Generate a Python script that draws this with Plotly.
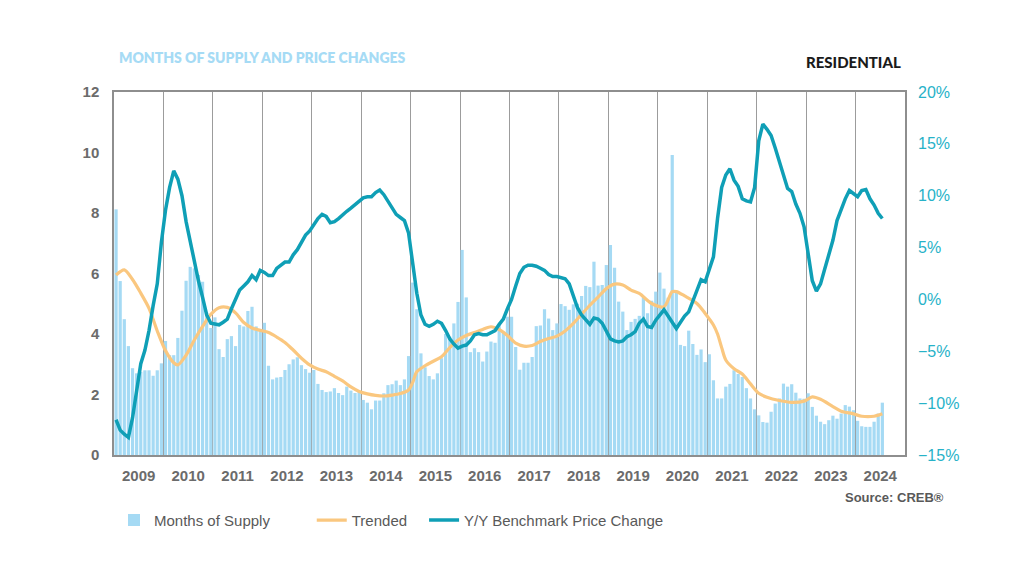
import plotly.graph_objects as go
from plotly.subplots import make_subplots

# ---------------- data ----------------
years = [str(y) for y in range(2009, 2025)]

# Months of supply, monthly from Jan 2009
supply_2009 = [8.12, 5.75, 4.49, 3.6, 2.87, 2.7, 2.75, 2.8, 2.8, 2.62, 2.8, 3.03]
supply_2010 = [3.77, 3.3, 3.3, 3.87, 4.77, 5.76, 6.22, 6.17, 5.95, 5.73, 4.7, 4.2]
supply_2011 = [4.55, 3.5, 3.24, 3.83, 3.93, 3.6, 4.3, 4.25, 4.76, 4.9, 4.25, 4.1]
supply_2012 = [4.37, 2.95, 2.5, 2.56, 2.58, 2.81, 3.0, 3.16, 3.23, 2.97, 2.84, 2.72]
supply_2013 = [2.81, 2.35, 2.15, 2.08, 2.1, 2.21, 2.05, 1.98, 2.26, 2.13, 2.05, 2.12]
supply_2014 = [1.82, 1.73, 1.51, 1.8, 1.8, 2.04, 2.31, 2.34, 2.46, 2.31, 2.5, 3.27]
supply_2015 = [5.7, 4.82, 3.36, 2.9, 2.61, 2.5, 2.7, 3.2, 4.0, 3.91, 4.35, 5.06]
supply_2016 = [6.78, 5.21, 3.4, 3.53, 3.4, 3.09, 3.42, 3.75, 3.71, 4.3, 4.08, 4.57]
supply_2017 = [4.57, 3.57, 2.82, 3.05, 3.05, 3.24, 4.26, 4.28, 4.82, 4.51, 4.13, 4.35]
supply_2018 = [4.99, 4.92, 4.8, 4.98, 5.0, 5.26, 5.59, 5.55, 6.39, 5.6, 5.62, 6.28]
supply_2019 = [6.94, 6.19, 5.07, 4.74, 4.13, 4.4, 4.5, 4.6, 5.23, 4.69, 5.1, 5.4]
supply_2020 = [6.03, 5.5, 5.2, 9.92, 5.4, 3.64, 3.6, 4.11, 3.67, 3.31, 3.49, 3.07]
supply_2021 = [3.33, 2.47, 1.87, 1.87, 2.26, 2.35, 2.8, 2.68, 2.58, 2.21, 1.87, 1.51]
supply_2022 = [1.31, 1.09, 1.07, 1.43, 1.7, 1.87, 2.36, 2.26, 2.34, 2.06, 1.87, 1.86]
supply_2023 = [2.04, 1.59, 1.3, 1.1, 1.02, 1.15, 1.3, 1.2, 1.37, 1.65, 1.6, 1.48]
supply_2024 = [1.13, 0.95, 0.93, 0.93, 1.1, 1.37, 1.73]

supply = (supply_2009 + supply_2010 + supply_2011 + supply_2012 + supply_2013 +
          supply_2014 + supply_2015 + supply_2016 + supply_2017 + supply_2018 +
          supply_2019 + supply_2020 + supply_2021 + supply_2022 + supply_2023 +
          supply_2024)

# Trended months of supply (month index from Jan 2009, value)
trend_idx = [0, 2, 4, 6, 8, 10, 12, 14, 15, 17, 19, 21, 23, 25, 27, 29, 31, 33, 35,
             37, 39, 41, 43, 45, 47, 49, 51, 53, 55, 57, 59, 61, 63, 65, 67, 69, 71,
             72, 73, 75, 77, 79, 81, 83, 85, 87, 89, 91, 93, 95, 97, 99, 101, 103,
             105, 107, 109, 111, 113, 115, 117, 119, 121, 123, 125, 127, 130, 133,
             135, 136, 138, 141, 143, 145, 146, 147, 148, 150, 152, 154, 156, 158,
             161, 164, 167, 169, 171, 174, 176, 179, 181, 184, 186]
trend_val = [5.95, 6.12, 5.8, 5.35, 4.85, 4.1, 3.45, 3.05, 2.98, 3.3, 3.8, 4.25, 4.65,
             4.87, 4.88, 4.7, 4.38, 4.2, 4.12, 4.05, 3.9, 3.72, 3.47, 3.2, 2.98, 2.84,
             2.75, 2.6, 2.45, 2.25, 2.1, 2.02, 1.97, 1.95, 1.98, 2.03, 2.15,
             2.4, 2.75, 2.95, 3.1, 3.25, 3.55, 3.8, 3.95, 4.05, 4.15, 4.24, 4.15, 3.95,
             3.7, 3.6, 3.62, 3.75, 3.85, 3.93, 4.1, 4.35, 4.65, 4.95, 5.22, 5.5, 5.65,
             5.62, 5.45, 5.34, 5.01, 4.9, 5.4, 5.4, 5.26, 5.01, 4.68, 4.3, 4.0, 3.55,
             3.14, 2.85, 2.68, 2.35, 2.04, 1.91, 1.8, 1.74, 1.78, 1.92, 1.84, 1.6, 1.45,
             1.36, 1.28, 1.28, 1.36]

# Y/Y benchmark price change (%), monthly from Jan 2009
price_change = [
    -11.6, -12.6, -13.0, -13.3, -11.4, -8.8, -6.2, -4.9, -3.0, -0.6, 1.5, 5.5,
    8.6, 10.8, 12.4, 11.6, 10.0, 7.5, 5.6, 3.4, 1.8, 0.2, -1.5, -2.3,
    -2.4, -2.45, -2.2, -1.9, -0.9, 0.1, 0.9, 1.3, 1.7, 2.3, 1.9, 2.8,
    2.6, 2.3, 2.3, 3.0, 3.3, 3.6, 3.6, 4.3, 4.8, 5.5, 6.2, 6.6,
    7.2, 7.8, 8.2, 8.0, 7.4, 7.5, 7.8, 8.2, 8.5, 8.8, 9.1, 9.4,
    9.8, 9.9, 9.9, 10.3, 10.55, 10.1, 9.5, 8.8, 8.2, 7.9, 7.6, 6.4,
    3.5, 0.6, -1.5, -2.4, -2.6, -2.4, -2.1, -2.3, -3.0, -3.8, -4.3, -4.7,
    -4.5, -4.4, -4.0, -3.4, -3.3, -3.4, -3.4, -3.2, -3.0, -2.4, -1.9, -0.9,
    0.0, 1.3, 2.5, 3.1, 3.3, 3.3, 3.2, 3.0, 2.8, 2.4, 2.2, 2.2,
    2.1, 2.0, 1.5, 0.3, -0.8, -1.5, -2.0, -2.4, -1.8, -1.9, -2.3, -3.0,
    -3.8, -4.0, -4.1, -4.0, -3.6, -3.4, -3.1, -2.3, -1.9, -2.6, -2.7, -2.0,
    -1.5, -1.0, -1.6, -2.2, -2.8, -2.2, -1.6, -1.2, -0.2, 1.0, 1.9, 1.7,
    2.9, 4.1, 7.8, 10.8, 12.0, 12.6, 11.5, 10.9, 9.7, 9.5, 9.4, 10.8,
    15.3, 16.9, 16.4, 15.8, 14.6, 13.4, 12.0, 10.7, 10.4, 9.2, 8.3, 7.0,
    4.5, 1.8, 0.8, 1.5, 2.9, 4.2, 5.7, 7.6, 8.7, 9.7, 10.5, 10.2,
    9.9, 10.5, 10.6, 9.7, 9.1, 8.3, 7.8]

months = list(range(len(supply)))

# ---------------- styles ----------------
BAR_C = "#a5daf4"
ORANGE = "#fac77f"
TEAL = "#0f9fb6"
TEAL_TXT = "#27b2c8"
GRAY_TXT = "#6b6b6b"
FRAME = "#8e8e8e"
FONT = "Liberation Sans"

fig = make_subplots(specs=[[{"secondary_y": True}]])

fig.add_trace(go.Bar(x=months, y=supply, name="Months of Supply",
                     marker=dict(color=BAR_C, line=dict(width=0)),
                     legend="legend", showlegend=True), secondary_y=False)
fig.add_trace(go.Scatter(x=trend_idx, y=trend_val, name="Trended", mode="lines",
                         line=dict(color=ORANGE, width=3.2, shape="spline", smoothing=0.8),
                         legend="legend2", showlegend=True), secondary_y=False)
fig.add_trace(go.Scatter(x=months, y=price_change, name="Y/Y Benchmark Price Change",
                         mode="lines", line=dict(color=TEAL, width=3.5),
                         legend="legend3", showlegend=True), secondary_y=True)

n_years = len(years)
fig.update_xaxes(
    domain=[0, 1],
    range=[-0.5, 12 * n_years - 0.5],
    tickmode="array",
    tickvals=[12 * i + 5.5 for i in range(n_years)],
    ticktext=years,
    showgrid=False, zeroline=False,
    showline=True, mirror=True, linecolor=FRAME, linewidth=1.5,
    ticks="", ticklabelstandoff=6,
    tickfont=dict(family=FONT, size=15, color=GRAY_TXT, weight="bold"),
    minor=dict(tickmode="linear", tick0=-0.5, dtick=12, showgrid=True,
               gridcolor="#9c9c9c", gridwidth=1.3, ticks=""),
)
fig.update_yaxes(
    range=[0, 12], dtick=2, showgrid=False, zeroline=False,
    showline=True, mirror=True, linecolor=FRAME, linewidth=1.5,
    ticks="", ticklabelstandoff=10,
    tickfont=dict(family=FONT, size=15, color=GRAY_TXT, weight="bold"),
    secondary_y=False)
fig.update_yaxes(
    range=[-15, 20], dtick=5, ticksuffix="%", showgrid=False, zeroline=False,
    showline=False, ticks="", ticklabelstandoff=12,
    tickfont=dict(family=FONT, size=16, color=TEAL_TXT),
    secondary_y=True)

leg_common = dict(orientation="h", yanchor="middle", xanchor="left", y=-0.18,
                  font=dict(family=FONT, size=15, color="#595959"),
                  bgcolor="rgba(0,0,0,0)", borderwidth=0)

fig.update_layout(
    width=1024, height=576,
    margin=dict(l=114, r=119, t=92, b=121),
    plot_bgcolor="white", paper_bgcolor="white",
    bargap=0.22,
    showlegend=True,
    legend=dict(x=0.0, **leg_common),
    legend2=dict(x=0.25, **leg_common),
    legend3=dict(x=0.392, **leg_common),
    annotations=[
        dict(text="MONTHS OF SUPPLY AND PRICE CHANGES", xref="paper", yref="paper",
             x=0.004, y=1.094, xanchor="left", yanchor="middle", showarrow=False,
             font=dict(family="Lato", size=14, color="#a6dbf5", weight=800)),
        dict(text="RESIDENTIAL", xref="paper", yref="paper",
             x=0.9975, y=1.083, xanchor="right", yanchor="middle", showarrow=False,
             font=dict(family="Lato", size=15, color="#1a1a1a", weight=900)),
        dict(text="Source: CREB®", xref="paper", yref="paper",
             x=1.052, y=-0.116, xanchor="right", yanchor="middle", showarrow=False,
             font=dict(family=FONT, size=13, color="#595959", weight="bold")),
    ],
)

fig.write_html("out.html", config={"displayModeBar": False},
               post_script="document.body.style.margin='0';")
